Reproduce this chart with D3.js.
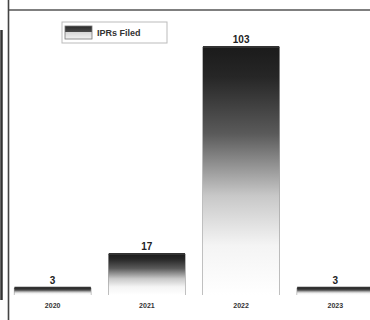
<!DOCTYPE html>
<html>
<head>
<meta charset="utf-8">
<script src="https://cdn.jsdelivr.net/npm/d3@7/dist/d3.min.js"></script>
<style>
  html, body { margin: 0; padding: 0; background: #fff; }
  svg { display: block; }
</style>
</head>
<body>
<svg id="chart" width="370" height="320"></svg>
<script>
// IPR filings per year
const years = ["2020", "2021", "2022", "2023"];
const iprsFiled = [3, 17, 103, 3];
const seriesName = "IPRs Filed";

const W = 370, H = 320;
const svg = d3.select("#chart");

const x = d3.scaleBand().domain(years).range([6, 382]).paddingInner(0.19).paddingOuter(0.09);
const y = d3.scaleLinear().domain([0, 103]).range([295, 47]);

// vertical fade used for every bar
const defs = svg.append("defs");
const grad = defs.append("linearGradient")
  .attr("id", "fade").attr("x1", 0).attr("y1", 0).attr("x2", 0).attr("y2", 1);
[[0, "#1b1b1b"], [0.12, "#262626"], [0.35, "#5a5a5a"], [0.6, "#c8c8c8"], [0.8, "#f4f4f4"], [1, "#ffffff"]]
  .forEach(([o, c]) => grad.append("stop").attr("offset", o).attr("stop-color", c));

const swatch = defs.append("linearGradient")
  .attr("id", "swatch").attr("x1", 0).attr("y1", 0).attr("x2", 0).attr("y2", 1);
[[0, "#2a2a2a"], [0.45, "#4a4a4a"], [0.5, "#d8d8d8"], [1, "#f2f2f2"]]
  .forEach(([o, c]) => swatch.append("stop").attr("offset", o).attr("stop-color", c));

// frame lines
svg.append("line").attr("x1", 8).attr("x2", W).attr("y1", 10).attr("y2", 10)
  .attr("stroke", "#555").attr("stroke-width", 1.6);
svg.append("line").attr("x1", 8.5).attr("x2", 8.5).attr("y1", 0).attr("y2", H)
  .attr("stroke", "#444").attr("stroke-width", 1.6);
svg.append("line").attr("x1", 1.5).attr("x2", 1.5).attr("y1", 30).attr("y2", 300)
  .attr("stroke", "#333").attr("stroke-width", 2.5);

const data = years.map((yr, i) => ({ yr, v: iprsFiled[i] }));

const bars = svg.append("g");
// faint side edges of each bar
bars.selectAll("path.edge").data(data).join("path")
  .attr("class", "edge")
  .attr("d", d => {
    const x0 = x(d.yr), x1 = x(d.yr) + x.bandwidth();
    return `M${x0},${y(0)}V${y(d.v)}M${x1},${y(d.v)}V${y(0)}`;
  })
  .attr("fill", "none").attr("stroke", "#9a9a9a").attr("stroke-width", 1.2);

bars.selectAll("rect.bar").data(data).join("rect")
  .attr("class", "bar")
  .attr("x", d => x(d.yr))
  .attr("y", d => y(d.v))
  .attr("width", x.bandwidth())
  .attr("height", d => y(0) - y(d.v))
  .attr("fill", "url(#fade)");

// dark cap on top of each bar
bars.selectAll("line.cap").data(data).join("line")
  .attr("class", "cap")
  .attr("x1", d => x(d.yr)).attr("x2", d => x(d.yr) + x.bandwidth())
  .attr("y1", d => y(d.v)).attr("y2", d => y(d.v))
  .attr("stroke", "#333").attr("stroke-width", 2);

// value labels
svg.append("g").selectAll("text").data(data).join("text")
  .attr("x", d => x(d.yr) + x.bandwidth() / 2)
  .attr("y", d => y(d.v) - 4)
  .attr("text-anchor", "middle")
  .attr("font-family", "Liberation Sans, Arial, sans-serif")
  .attr("font-weight", "bold")
  .attr("font-size", 10)
  .attr("fill", "#222")
  .text(d => d.v);

// year axis (labels only)
const axis = svg.append("g").attr("transform", `translate(0,${y(0)})`)
  .call(d3.axisBottom(x).tickSize(0).tickPadding(8));
axis.select(".domain").remove();
axis.selectAll("text")
  .attr("font-family", "Liberation Sans, Arial, sans-serif")
  .attr("font-weight", "bold")
  .attr("font-size", 7)
  .attr("fill", "#333");

// legend
const lg = svg.append("g").attr("transform", "translate(62,22)");
lg.append("rect").attr("width", 105).attr("height", 21)
  .attr("fill", "#fff").attr("stroke", "#bbb").attr("stroke-width", 1);
lg.append("rect").attr("x", 3).attr("y", 4).attr("width", 27).attr("height", 13)
  .attr("fill", "url(#swatch)").attr("stroke", "#777").attr("stroke-width", 0.8);
lg.append("text").attr("x", 35).attr("y", 14)
  .attr("font-family", "Liberation Sans, Arial, sans-serif")
  .attr("font-weight", "bold")
  .attr("font-size", 9)
  .attr("fill", "#333")
  .text(seriesName);
</script>
</body>
</html>
